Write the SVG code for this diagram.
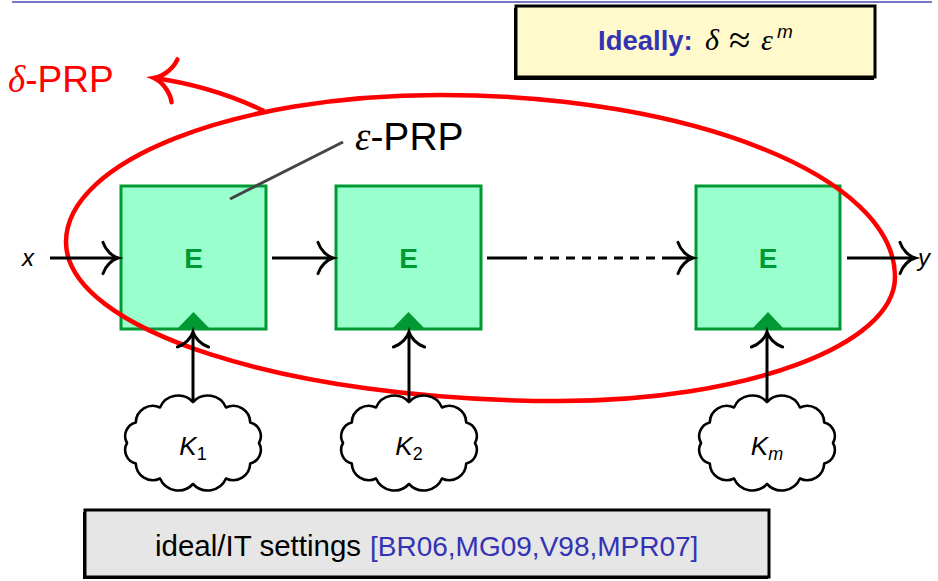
<svg xmlns="http://www.w3.org/2000/svg" width="938" height="581" viewBox="0 0 938 581">
  <style>
    .sans { font-family: "Liberation Sans", "DejaVu Sans", sans-serif; }
    .serif { font-family: "Liberation Serif", "DejaVu Serif", serif; }
    .box { fill: #99ffcc; stroke: #009933; stroke-width: 3; }
    .tri { fill: #009933; }
    .elabel { font-family: "Liberation Sans", sans-serif; font-weight: bold; font-size: 28px; fill: #009933; }
    .wire { stroke: #000; stroke-width: 3; fill: none; }
    .cloud { fill: #fff; stroke: #000; stroke-width: 2.6; stroke-linejoin: round; }
    .klabel { font-family: "Liberation Sans", sans-serif; font-style: italic; font-size: 26px; fill: #000; }
    .cite { fill: #3333b3; }
  </style>
  <defs>
    <marker id="to" markerUnits="strokeWidth" markerWidth="12" markerHeight="12" refX="0" refY="0" orient="auto" overflow="visible" viewBox="-6 -6 12 12">
      <path d="M -5,-5.2 C -4.2,-2.6 -1.8,-0.5 0,0 C -1.8,0.5 -4.2,2.6 -5,5.2" fill="none" stroke="#000" stroke-width="1" stroke-linecap="round"/>
    </marker>
    <marker id="to-red" markerUnits="strokeWidth" markerWidth="12" markerHeight="12" refX="0" refY="0" orient="auto" overflow="visible" viewBox="-6 -6 12 12">
      <path d="M -4.6,-4.8 C -3.9,-2.4 -1.7,-0.5 0,0 C -1.7,0.5 -3.9,2.4 -4.6,4.8" fill="none" stroke="#ff0000" stroke-width="1" stroke-linecap="round"/>
    </marker>
    <path id="cloudShape" d="M 0,-41 A 20,20 0 0 1 33,-35.5 A 17,17 0 0 1 57.2,-20.5 A 14,14 0 0 1 66,0 A 14,14 0 0 1 57.2,20.5 A 17,17 0 0 1 33,35.5 A 20,20 0 0 1 0,41 A 20,20 0 0 1 -33,35.5 A 17,17 0 0 1 -57.2,20.5 A 14,14 0 0 1 -66,0 A 14,14 0 0 1 -57.2,-20.5 A 17,17 0 0 1 -33,-35.5 A 20,20 0 0 1 0,-41 Z"/>
  </defs>

  <!-- header rule -->
  <line x1="12" y1="2" x2="932" y2="2" stroke="#4a4ab8" stroke-width="1.5"/>

  <!-- note: ideal bound -->
  <g id="note-ideal">
    <rect x="514" y="8" width="360" height="72" fill="#000"/>
    <rect x="516" y="6" width="359" height="71" fill="#fff9cc" stroke="#000" stroke-width="3"/>
    <text x="598" y="50" class="sans" font-size="27.5" font-weight="bold" fill="#3333b3">Ideally:</text>
    <text x="705" y="50" class="serif" font-size="30" font-style="italic" fill="#000">δ</text>
    <text x="729" y="53" class="serif" font-size="39" fill="#000">≈</text>
    <text x="761" y="50" class="serif" font-size="30" font-style="italic" fill="#000">ε</text>
    <text x="777" y="38" class="sans" font-size="19" font-style="italic" fill="#000">m</text>
  </g>

  <!-- block ciphers -->
  <g id="block1">
    <rect class="box" x="121" y="186" width="145" height="143"/>
    <path class="tri" d="M 177,329 L 193.5,312 L 210,329 Z"/>
    <text class="elabel" x="193.5" y="268" text-anchor="middle">E</text>
  </g>
  <g id="block2">
    <rect class="box" x="336" y="186" width="145" height="143"/>
    <path class="tri" d="M 392,329 L 408.5,312 L 425,329 Z"/>
    <text class="elabel" x="408.5" y="268" text-anchor="middle">E</text>
  </g>
  <g id="block3">
    <rect class="box" x="696" y="186" width="144" height="143"/>
    <path class="tri" d="M 752,329 L 768,312 L 784,329 Z"/>
    <text class="elabel" x="768" y="268" text-anchor="middle">E</text>
  </g>

  <!-- single block label -->
  <g id="eps-prp">
    <line x1="230" y1="199" x2="343" y2="142" stroke="#444" stroke-width="3"/>
    <text x="355" y="150" font-size="39" fill="#000"><tspan class="serif" font-style="italic">ε</tspan><tspan class="sans">-PRP</tspan></text>
  </g>

  <!-- composed cipher outline -->
  <g id="delta-prp">
    <path d="M 66,242 C 66,160.8 233.4,95 440,95 C 691.3,95 895,176.5 895,277 C 895,345.5 745,401 560,401 C 287.2,401 66,329.8 66,242 Z" fill="none" stroke="#ff0000" stroke-width="4.5"/>
    <text x="8" y="92" font-size="37" fill="#ff0000"><tspan class="serif" font-style="italic">δ</tspan><tspan class="sans">-PRP</tspan></text>
  </g>

  <!-- keys -->
  <g id="key1">
    <use href="#cloudShape" class="cloud" transform="translate(193,443)"/>
    <text class="klabel" x="193" y="455" text-anchor="middle">K<tspan dy="5" style="font-style:normal;font-size:18px">1</tspan></text>
  </g>
  <g id="key2">
    <use href="#cloudShape" class="cloud" transform="translate(409,443)"/>
    <text class="klabel" x="409" y="455" text-anchor="middle">K<tspan dy="5" style="font-style:normal;font-size:18px">2</tspan></text>
  </g>
  <g id="key3">
    <use href="#cloudShape" class="cloud" transform="translate(767,443)"/>
    <text class="klabel" x="767" y="455" text-anchor="middle">K<tspan dy="5" style="font-style:italic;font-size:18px">m</tspan></text>
  </g>

  <!-- input / output -->
  <g id="input">
    <text class="sans" x="22" y="266" font-size="24" font-style="italic">x</text>
  </g>
  <g id="output">
    <text class="sans" x="918" y="266" font-size="24" font-style="italic">y</text>
  </g>

  <!-- connectors -->
  <g id="connectors">
    <line class="wire" x1="50" y1="258" x2="118" y2="258" marker-end="url(#to)"/>
    <line class="wire" x1="272" y1="258" x2="333" y2="258" marker-end="url(#to)"/>
    <line class="wire" x1="487" y1="258" x2="518" y2="258"/>
    <line class="wire" x1="518" y1="258" x2="656" y2="258" stroke-dasharray="9,7"/>
    <line class="wire" x1="662" y1="258" x2="693" y2="258" marker-end="url(#to)"/>
    <line class="wire" x1="847" y1="258" x2="915" y2="258" marker-end="url(#to)"/>
    <line class="wire" x1="193" y1="402" x2="193" y2="332" marker-end="url(#to)"/>
    <line class="wire" x1="409" y1="402" x2="409" y2="332" marker-end="url(#to)"/>
    <line class="wire" x1="767" y1="402" x2="767" y2="332" marker-end="url(#to)"/>
    <path d="M 264,111 Q 212,86 154,78" fill="none" stroke="#ff0000" stroke-width="4.5" marker-end="url(#to-red)"/>
  </g>

  <!-- references -->
  <g id="note-refs">
    <rect x="83" y="512" width="685" height="67" fill="#000"/>
    <rect x="85" y="510" width="684" height="67" fill="#e6e6e6" stroke="#000" stroke-width="3"/>
    <text class="sans" x="155" y="556" font-size="29.5" fill="#000">ideal/IT settings</text>
    <text class="sans cite" x="370" y="556" font-size="28">[BR06,MG09,V98,MPR07]</text>
  </g>
</svg>
